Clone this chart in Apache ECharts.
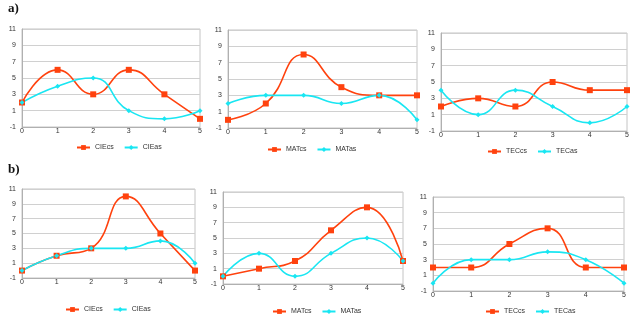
<!DOCTYPE html>
<html>
<head>
<meta charset="utf-8">
<script src="https://cdn.jsdelivr.net/npm/echarts@6/dist/echarts.min.js"></script>
<style>
  html, body { margin: 0; padding: 0; background: #fff; }
  #chart { width: 640px; height: 321px; }
</style>
</head>
<body>
<div id="chart"></div>
<script>
// categories on the x axis
var xLabels = ['0', '1', '2', '3', '4', '5'];

// row a)
var cieCsA = [2, 6, 3, 6, 3, 0];
var cieAsA = [2, 4, 5, 1, 0, 1];
var matCsA = [0, 2, 8, 4, 3, 3];
var matAsA = [2, 3, 3, 2, 3, 0];
var tecCsA = [2, 3, 2, 5, 4, 4];
var tecAsA = [4, 1, 4, 2, 0, 2];

// row b)
var cieCsB = [0, 2, 3, 10, 5, 0];
var cieAsB = [0, 2, 3, 3, 4, 1];
var matCsB = [0, 1, 2, 6, 9, 2];
var matAsB = [0, 3, 0, 3, 5, 2];
var tecCsB = [2, 2, 5, 7, 2, 2];
var tecAsB = [0, 3, 3, 4, 3, 0];

var redColor = '#ff420e';
var cyanColor = '#19e6f2';
var font = 'Liberation Sans';

var panels = [
    {cs: 'CIEcs', as: 'CIEas', csData: cieCsA, asData: cieAsA, grid: [22, 29, 178, 98], legend: [71, 139]},
    {cs: 'MATcs', as: 'MATas', csData: matCsA, asData: matAsA, grid: [228, 30, 189, 98], legend: [262, 141]},
    {cs: 'TECcs', as: 'TECas', csData: tecCsA, asData: tecAsA, grid: [441, 33, 186, 98], legend: [482, 143]},
    {cs: 'CIEcs', as: 'CIEas', csData: cieCsB, asData: cieAsB, grid: [22, 189, 173, 89], legend: [60, 301]},
    {cs: 'MATcs', as: 'MATas', csData: matCsB, asData: matAsB, grid: [223, 192, 180, 92], legend: [267, 303]},
    {cs: 'TECcs', as: 'TECas', csData: tecCsB, asData: tecAsB, grid: [433, 197, 191, 94], legend: [480, 303]}
];

var grids = [], xAxes = [], yAxes = [], legends = [], series = [];

panels.forEach(function (p, i) {
    grids.push({
        left: p.grid[0], top: p.grid[1], width: p.grid[2], height: p.grid[3],
        show: true, borderColor: '#c4c4c4', borderWidth: 1
    });
    xAxes.push({
        type: 'category', gridIndex: i, data: xLabels, boundaryGap: false,
        axisLine: {onZero: false, lineStyle: {color: '#b0b0b0'}},
        axisTick: {show: false},
        axisLabel: {fontSize: 7, color: '#333', margin: 1, fontFamily: font}
    });
    yAxes.push({
        type: 'value', gridIndex: i, min: -1, max: 11, interval: 2,
        axisLine: {show: true, lineStyle: {color: '#b0b0b0'}},
        axisTick: {show: false},
        axisLabel: {fontSize: 7, color: '#333', margin: 6, fontFamily: font},
        splitLine: {showMinLine: false, lineStyle: {color: '#d0d0d0'}}
    });
    legends.push({
        data: [p.cs, p.as], left: p.legend[0], top: p.legend[1],
        itemWidth: 13, itemHeight: 6, itemGap: 10,
        textStyle: {fontSize: 7, color: '#333', fontFamily: font},
        selectedMode: false
    });
    series.push({
        name: p.cs, type: 'line', xAxisIndex: i, yAxisIndex: i,
        data: p.csData, smooth: 0.5,
        symbol: 'rect', symbolSize: 6,
        lineStyle: {color: redColor, width: 1.6},
        itemStyle: {color: redColor}
    });
    series.push({
        name: p.as, type: 'line', xAxisIndex: i, yAxisIndex: i,
        data: p.asData, smooth: 0.5,
        symbol: 'diamond', symbolSize: 5,
        lineStyle: {color: cyanColor, width: 1.6},
        itemStyle: {color: cyanColor}
    });
});

var option = {
    backgroundColor: '#fff',
    animation: false,
    graphic: [
        {type: 'text', left: 8, top: 2, style: {text: 'a)', fontSize: 13, fontWeight: 'bold', fontFamily: 'Liberation Serif', fill: '#111'}},
        {type: 'text', left: 8, top: 163, style: {text: 'b)', fontSize: 13, fontWeight: 'bold', fontFamily: 'Liberation Serif', fill: '#111'}}
    ],
    grid: grids,
    xAxis: xAxes,
    yAxis: yAxes,
    legend: legends,
    series: series
};

var myChart = echarts.init(document.getElementById('chart'));
myChart.setOption(option);
</script>
</body>
</html>
